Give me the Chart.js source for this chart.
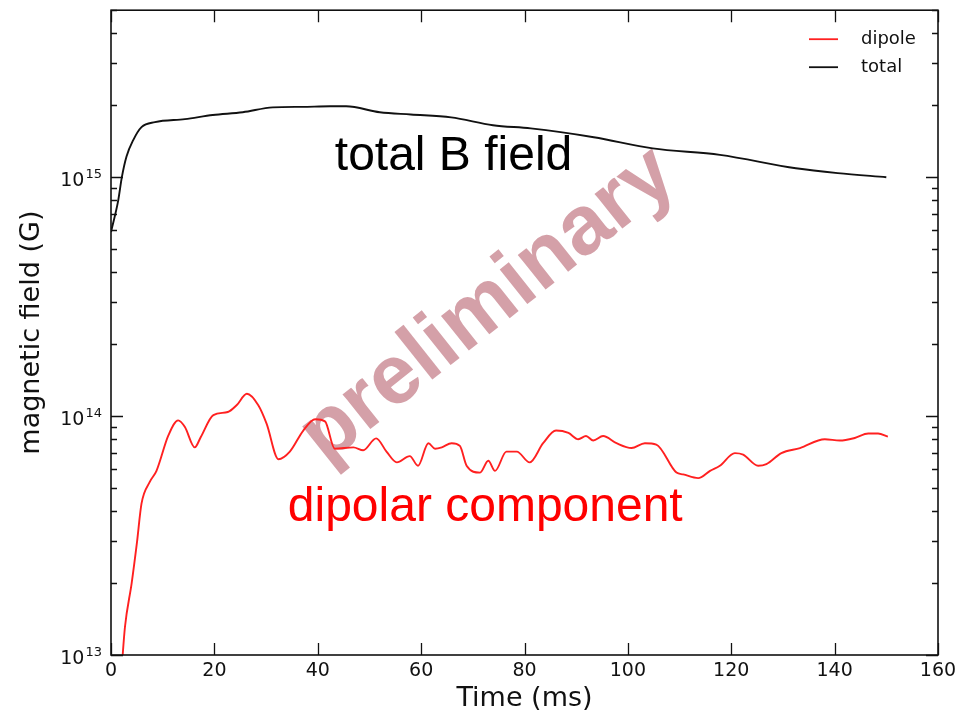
<!DOCTYPE html>
<html>
<head>
<meta charset="utf-8">
<script src="https://cdn.jsdelivr.net/npm/chart.js@4.4.1/dist/chart.umd.min.js"></script>
<style>
  body { margin: 0; background: #fff; }
  #wrap { width: 967px; height: 715px; }
</style>
</head>
<body>
<div id="wrap"><canvas id="fieldChart"></canvas></div>
<script>
// B field vs time
const totalTime = [0, 1.4, 2.1, 3.0, 4.3, 5.9, 8.5, 14.3, 19.7, 25.5, 31.3, 37, 42.4, 45.5, 52, 58, 65.8, 73.9, 81.2, 93.4, 104.8, 117.8, 132.5, 140.6, 150];
const totalField = [5.9e14, 8.0e14, 1.0e15, 1.22e15, 1.43e15, 1.62e15, 1.70e15, 1.75e15, 1.82e15, 1.87e15, 1.96e15, 1.97e15, 1.98e15, 1.98e15, 1.87e15, 1.83e15, 1.78e15, 1.65e15, 1.60e15, 1.47e15, 1.32e15, 1.24e15, 1.09e15, 1.04e15, 1.0e15];

const dipoleTime = [2.1, 2.7, 4.0, 5.0, 5.9, 7.5, 8.8, 11.1, 13.0, 14.3, 16.2, 17.4, 19.8, 22.6, 24.3, 26.3, 28.5, 30.1, 32.4, 34.6, 37.2, 39.5, 41.4, 43.3, 46.9, 48.8, 51.3, 53.3, 55.3, 57.8, 59.4, 61.4, 62.7, 64.0, 65.9, 67.5, 68.8, 71.4, 73.0, 74.3, 76.5, 78.5, 81.0, 83.6, 86.1, 88.5, 90.4, 91.9, 93.3, 95.2, 97.8, 100.7, 103.3, 105.5, 109.4, 110.7, 113.6, 115.9, 117.8, 120.7, 122.3, 125.2, 126.8, 129.7, 133.3, 138.1, 141.0, 143.9, 146.5, 148.4, 150.3];
const dipoleField = [9e12, 1.31e13, 2.0e13, 2.93e13, 4.3e13, 5.3e13, 5.9e13, 8.3e13, 9.6e13, 9.0e13, 7.4e13, 8.2e13, 1.01e14, 1.04e14, 1.11e14, 1.24e14, 1.11e14, 9.3e13, 6.6e13, 7.1e13, 8.7e13, 9.7e13, 9.5e13, 7.3e13, 7.4e13, 7.2e13, 8.07e13, 7.1e13, 6.4e13, 6.8e13, 6.2e13, 7.7e13, 7.3e13, 7.4e13, 7.7e13, 7.5e13, 6.2e13, 5.8e13, 6.5e13, 5.9e13, 7.1e13, 7.1e13, 6.4e13, 7.7e13, 8.7e13, 8.5e13, 8.0e13, 8.25e13, 7.9e13, 8.25e13, 7.7e13, 7.35e13, 7.7e13, 7.6e13, 5.8e13, 5.7e13, 5.5e13, 5.9e13, 6.2e13, 7.0e13, 6.9e13, 6.2e13, 6.3e13, 7.0e13, 7.35e13, 8.0e13, 7.9e13, 8.1e13, 8.45e13, 8.45e13, 8.2e13];

const xTicks = [0, 20, 40, 60, 80, 100, 120, 140, 160];
const yDecades = [1e13, 1e14, 1e15];
const yExponents = ['13', '14', '15'];
const yMin = 1e13, yMax = 5e15;

const toPoints = (xs, ys) => xs.map((x, i) => ({ x: x, y: ys[i] }));

// minor log ticks 2..9 per decade
const yMinor = [];
yDecades.forEach(d => { for (let m = 2; m <= 9; m++) if (d * m <= yMax) yMinor.push(d * m); });

// inward ticks on all four sides + frame + 10^n labels
const frame = {
    id: 'frame',
    afterDatasetsDraw(chart) {
        const { ctx, chartArea: a, scales: { x, y } } = chart;
        ctx.save();
        ctx.strokeStyle = '#111';
        ctx.lineWidth = 1.3;
        ctx.beginPath();
        xTicks.forEach(v => {
            const px = Math.round(x.getPixelForValue(v)) + 0.5;
            ctx.moveTo(px, a.bottom); ctx.lineTo(px, a.bottom - 12);
            ctx.moveTo(px, a.top); ctx.lineTo(px, a.top + 12);
        });
        yDecades.forEach(v => {
            const py = Math.round(y.getPixelForValue(v)) + 0.5;
            ctx.moveTo(a.left, py); ctx.lineTo(a.left + 12, py);
            ctx.moveTo(a.right, py); ctx.lineTo(a.right - 12, py);
        });
        yMinor.forEach(v => {
            const py = Math.round(y.getPixelForValue(v)) + 0.5;
            ctx.moveTo(a.left, py); ctx.lineTo(a.left + 6, py);
            ctx.moveTo(a.right, py); ctx.lineTo(a.right - 6, py);
        });
        ctx.stroke();
        ctx.lineWidth = 1.6;
        ctx.strokeRect(a.left, a.top, a.right - a.left, a.bottom - a.top);

        // y labels: "10" with raised exponent
        ctx.fillStyle = '#111';
        ctx.textBaseline = 'alphabetic';
        ctx.textAlign = 'right';
        yDecades.forEach((v, i) => {
            const py = y.getPixelForValue(v);
            ctx.font = '13px "DejaVu Sans", sans-serif';
            const ew = ctx.measureText(yExponents[i]).width;
            ctx.fillText(yExponents[i], a.left - 9, py + 1);
            ctx.font = '19px "DejaVu Sans", sans-serif';
            ctx.fillText('10', a.left - 10 - ew, py + 9);
        });
        ctx.restore();
    }
};

// watermark + text labels
const notes = {
    id: 'notes',
    beforeDatasetsDraw(chart) {
        const { ctx, scales: { x, y } } = chart;
        ctx.save();
        ctx.translate(x.getPixelForValue(73.0), y.getPixelForValue(2.9e14));
        ctx.rotate(-38.5 * Math.PI / 180);
        ctx.font = 'bold 84px "Liberation Sans", Arial, sans-serif';
        ctx.textAlign = 'center';
        ctx.textBaseline = 'middle';
        ctx.shadowColor = 'rgba(255,255,255,0.9)';
        ctx.shadowBlur = 6;
        ctx.fillStyle = '#d4a0a8';
        ctx.fillText('preliminary', 0, 0);
        ctx.restore();

        ctx.save();
        ctx.font = '48px "Liberation Sans", Arial, sans-serif';
        ctx.textBaseline = 'alphabetic';
        ctx.fillStyle = '#000';
        ctx.fillText('total B field', x.getPixelForValue(43.3), y.getPixelForValue(1.07e15));
        ctx.fillStyle = '#ff0000';
        ctx.fillText('dipolar component', x.getPixelForValue(34.2), y.getPixelForValue(3.65e13));
        ctx.restore();
    }
};

// legend inside the plot, top right, no frame
const cornerLegend = {
    id: 'cornerLegend',
    afterDraw(chart) {
        const { ctx, chartArea: a } = chart;
        ctx.save();
        ctx.font = '18px "DejaVu Sans", sans-serif';
        ctx.textBaseline = 'middle';
        chart.data.datasets.forEach((ds, i) => {
            const yy = a.top + 29 + i * 28;
            ctx.strokeStyle = ds.borderColor;
            ctx.lineWidth = 1.8;
            ctx.beginPath();
            ctx.moveTo(a.right - 129, yy); ctx.lineTo(a.right - 100, yy);
            ctx.stroke();
            ctx.fillStyle = '#111';
            ctx.fillText(ds.label, a.right - 77, yy);
        });
        ctx.restore();
    }
};

const ctx = document.getElementById('fieldChart');
new Chart(ctx, {
    type: 'line',
    data: {
        datasets: [{
            label: 'dipole',
            data: toPoints(dipoleTime, dipoleField),
            borderColor: '#ff2020',
            borderWidth: 1.9,
            pointRadius: 0,
            cubicInterpolationMode: 'monotone'
        }, {
            label: 'total',
            data: toPoints(totalTime, totalField),
            borderColor: '#111111',
            borderWidth: 1.9,
            pointRadius: 0,
            cubicInterpolationMode: 'monotone'
        }]
    },
    options: {
        responsive: true,
        maintainAspectRatio: false,
        animation: false,
        layout: { padding: { top: 0, right: 29, left: 0, bottom: 0 } },
        plugins: {
            legend: { display: false },
            tooltip: { enabled: false }
        },
        scales: {
            x: {
                type: 'linear',
                min: 0,
                max: 160,
                afterBuildTicks: s => { s.ticks = xTicks.map(v => ({ value: v })); },
                afterFit: s => { s.height = 60; },
                grid: { display: false, drawTicks: false },
                border: { display: false },
                ticks: { color: '#111', padding: 5, font: { family: 'DejaVu Sans', size: 19 }, maxRotation: 0 },
                title: { display: true, text: 'Time (ms)', color: '#111', font: { family: 'DejaVu Sans', size: 27 }, padding: { top: 4, bottom: 0 } }
            },
            y: {
                type: 'logarithmic',
                min: yMin,
                max: yMax,
                afterBuildTicks: s => { s.ticks = yDecades.map(v => ({ value: v })); },
                afterFit: s => { s.width = 111; },
                grid: { display: false, drawTicks: false },
                border: { display: false },
                ticks: { autoSkip: false, callback: () => '' },
                title: { display: true, text: 'magnetic field (G)', color: '#111', font: { family: 'DejaVu Sans', size: 27 }, padding: { top: 16, bottom: 4 } }
            }
        }
    },
    plugins: [notes, frame, cornerLegend]
});
</script>
</body>
</html>
